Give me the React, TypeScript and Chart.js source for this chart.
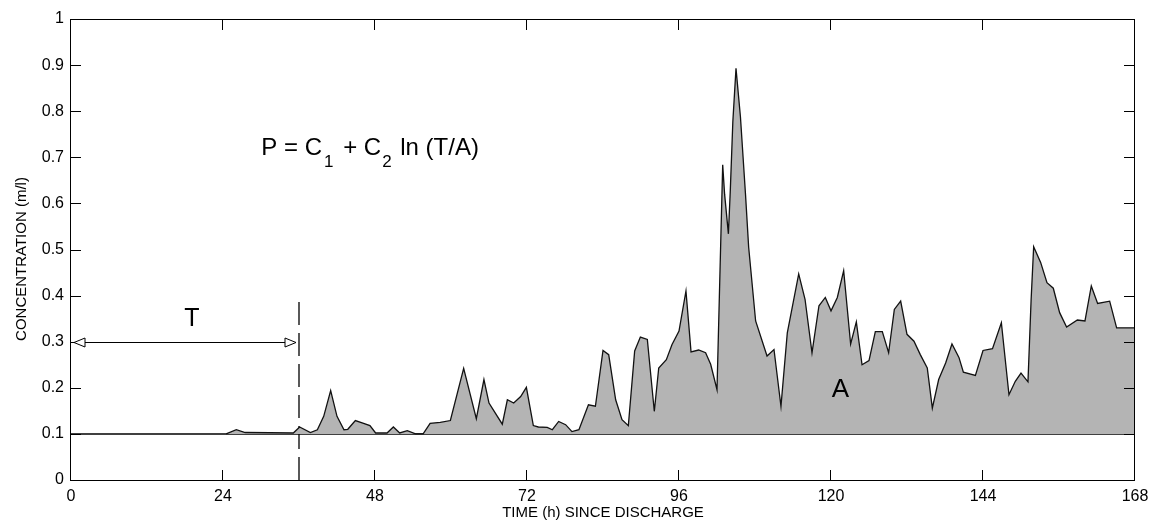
import React, { useEffect, useRef } from "react";
import { Chart, registerables } from "chart.js";

Chart.register(...registerables);

// ---- data ----
const timeHours = [
  24.5, 26.1, 27.5, 35.1, 36.1, 37.8, 38.9, 39.9, 41.0, 42.0, 43.1, 43.7, 44.9, 46.2, 47.2, 48.1, 49.9,
  50.9, 51.9, 53.1, 54.4, 55.6, 56.7, 58.3, 59.9, 62.0, 64.0, 65.2, 66.0, 67.0, 68.1, 68.9, 69.9,
  71.0, 71.9, 73.0, 73.8, 75.2, 76.0, 77.0, 78.1, 79.1, 80.2, 81.7, 82.8, 84.0, 84.9, 86.0, 87.0,
  88.0, 89.0, 89.9, 91.0, 92.1, 92.8, 94.0, 94.9, 96.0, 97.1, 97.9, 99.1, 100.2, 101.0, 102.0,
  102.9, 103.2, 103.8, 104.1, 104.5, 105.0, 105.7, 106.5, 107.0, 108.1, 109.9, 111.0, 112.1, 113.1,
  114.9, 115.9, 117.0, 118.1, 119.1, 120.0, 121.0, 122.0, 123.1, 124.0, 124.9, 126.0, 127.0, 128.1,
  129.1, 130.0, 131.0, 132.0, 133.1, 134.1, 135.2, 136.0, 137.0, 138.1, 139.1, 140.2, 140.9, 142.8,
  144.0, 145.5, 146.9, 148.1, 149.1, 150.0, 151.1, 151.6, 152.0, 153.1, 154.1, 155.1, 156.1, 157.2,
  158.9, 160.1, 161.1, 162.1, 164.0, 165.1, 168.0,
];
const concentration = [
  0.1, 0.109, 0.103, 0.102, 0.115, 0.103, 0.109, 0.138, 0.194, 0.138, 0.109, 0.11, 0.129, 0.123, 0.118, 0.102, 0.102,
  0.115, 0.102, 0.107, 0.1, 0.1, 0.123, 0.125, 0.129, 0.242, 0.133, 0.218, 0.167, 0.145, 0.121, 0.174, 0.167,
  0.181, 0.201, 0.118, 0.115, 0.114, 0.109, 0.127, 0.12, 0.105, 0.109, 0.163, 0.16, 0.281, 0.272, 0.174, 0.131,
  0.118, 0.28, 0.31, 0.305, 0.149, 0.243, 0.261, 0.294, 0.323, 0.41, 0.278, 0.282, 0.276, 0.251, 0.196,
  0.684, 0.62, 0.534, 0.628, 0.777, 0.893, 0.788, 0.62, 0.505, 0.345, 0.269, 0.283, 0.16, 0.319,
  0.447, 0.392, 0.276, 0.378, 0.396, 0.367, 0.396, 0.454, 0.295, 0.343, 0.25, 0.259, 0.322, 0.322,
  0.276, 0.37, 0.388, 0.316, 0.301, 0.272, 0.243, 0.156, 0.218, 0.254, 0.295, 0.266, 0.234, 0.227,
  0.281, 0.285, 0.341, 0.185, 0.214, 0.232, 0.213, 0.392, 0.506, 0.472, 0.428, 0.416, 0.363, 0.332,
  0.347, 0.345, 0.421, 0.383, 0.388, 0.33, 0.33,
];
const xTickValues = [0, 24, 48, 72, 96, 120, 144, 168];
const xTickLabels = ["0", "24", "48", "72", "96", "120", "144", "168"];
const yTickValues = [0, 0.1, 0.2, 0.3, 0.4, 0.5, 0.6, 0.7, 0.8, 0.9, 1];
const yTickLabels = ["0", "0.1", "0.2", "0.3", "0.4", "0.5", "0.6", "0.7", "0.8", "0.9", "1"];
const baselineLevel = 0.1;
const lagT = 36;
const arrowLevel = 0.3;
const dashTopLevel = 0.4;
const xTitle = "TIME (h) SINCE DISCHARGE";
const yTitle = "CONCENTRATION (m/l)";

const FONT = "'Liberation Sans', Arial, Helvetica, sans-serif";

const decoPlugin = {
  id: "deco",
  afterDraw(chart: any) {
    const ctx: CanvasRenderingContext2D = chart.ctx;
    const area = chart.chartArea;
    const xs = chart.scales.x;
    const ys = chart.scales.y;
    ctx.save();
    ctx.setLineDash([]);
    ctx.fillStyle = "#000";
    const left = Math.round(area.left) - 1;
    const right = Math.round(area.right) - 1;
    const top = Math.round(area.top);
    const bottom = Math.round(area.bottom);
    // frame (1px rectangles)
    ctx.fillRect(left, top, right - left + 1, 1);
    ctx.fillRect(left, bottom, right - left + 1, 1);
    ctx.fillRect(left, top, 1, bottom - top + 1);
    ctx.fillRect(right, top, 1, bottom - top + 1);
    // inward ticks
    const tl = 10;
    xTickValues.forEach((v) => {
      const px = Math.round(xs.getPixelForValue(v)) - 1;
      ctx.fillRect(px, bottom - tl, 1, tl);
      ctx.fillRect(px, top + 1, 1, tl);
    });
    yTickValues.forEach((v) => {
      const py = Math.round(ys.getPixelForValue(v));
      ctx.fillRect(left + 1, py, tl, 1);
      ctx.fillRect(right - tl, py, tl, 1);
    });

    // arrow for T
    ctx.strokeStyle = "#000";
    ctx.lineWidth = 1;
    const ay = Math.round(ys.getPixelForValue(arrowLevel)) + 0.5;
    const ax0 = xs.getPixelForValue(0) + 3;
    const ax1 = xs.getPixelForValue(lagT) - 3;
    ctx.beginPath();
    ctx.moveTo(ax0, ay);
    ctx.lineTo(ax1, ay);
    ctx.stroke();
    const head = (tipX: number, dir: number) => {
      ctx.beginPath();
      ctx.moveTo(tipX, ay);
      ctx.lineTo(tipX + dir * 11, ay - 4.5);
      ctx.lineTo(tipX + dir * 11, ay + 4.5);
      ctx.closePath();
      ctx.fillStyle = "#fff";
      ctx.fill();
      ctx.stroke();
    };
    head(ax0, 1);
    head(ax1, -1);

    ctx.fillStyle = "#000";
    ctx.textBaseline = "alphabetic";
    ctx.textAlign = "center";
    ctx.font = `25px ${FONT}`;
    ctx.fillText("T", xs.getPixelForValue(19.1), ys.getPixelForValue(0.333));
    ctx.font = `26px ${FONT}`;
    ctx.fillText("A", xs.getPixelForValue(121.5), ys.getPixelForValue(0.181));

    // formula
    const fy = ys.getPixelForValue(0.704);
    let cx = xs.getPixelForValue(30.05);
    ctx.textAlign = "left";
    const big = `24px ${FONT}`;
    const small = `17px ${FONT}`;
    const part = (s: string, font: string, dy: number, gap = 0) => {
      ctx.font = font;
      ctx.fillText(s, cx, fy + dy);
      cx += ctx.measureText(s).width + gap;
    };
    part("P = C", big, 0, 2);
    part("1", small, 12, 3);
    part(" + C", big, 0, 1);
    part("2", small, 12, 2);
    part(" ln (T/A)", big, 0);

    // axis titles
    ctx.font = `15px ${FONT}`;
    ctx.textAlign = "center";
    ctx.textBaseline = "middle";
    ctx.fillText(xTitle, (area.left + area.right) / 2, 513);
    ctx.translate(22, 259);
    ctx.rotate(-Math.PI / 2);
    ctx.fillText(yTitle, 0, 0);

    ctx.restore();
  },
};

export default function App() {
  const ref = useRef<HTMLCanvasElement>(null);
  useEffect(() => {
    if (!ref.current) return;
    const seriesPts = timeHours.map((t, i) => ({ x: t, y: concentration[i] }));
    const chart = new Chart(ref.current, {
      type: "line",
      data: {
        datasets: [
          {
            data: seriesPts,
            borderColor: "#111",
            borderWidth: 1.3,
            backgroundColor: "#b4b4b4",
            fill: { value: baselineLevel },
            pointRadius: 0,
            tension: 0,
          },
          {
            data: [
              { x: 0, y: baselineLevel },
              { x: 168, y: baselineLevel },
            ],
            borderColor: "#000",
            borderWidth: 1.5,
            pointRadius: 0,
            fill: false,
          },
          {
            data: [
              { x: lagT, y: 0 },
              { x: lagT, y: dashTopLevel },
            ],
            borderColor: "#000",
            borderWidth: 1.3,
            borderDash: [23, 8],
            pointRadius: 0,
            fill: false,
          },
        ],
      },
      options: {
        animation: false,
        responsive: false,
        devicePixelRatio: 1,
        layout: { padding: { top: 19, right: 16, left: 0, bottom: 0 } },
        plugins: { legend: { display: false }, tooltip: { enabled: false }, title: { display: false } },
        scales: {
          x: {
            type: "linear",
            min: 0,
            max: 168,
            afterBuildTicks: (s: any) => {
              s.ticks = xTickValues.map((v) => ({ value: v }));
            },
            afterFit: (s: any) => {
              s.height = 44;
              s.paddingLeft = 0;
              s.paddingRight = 0;
            },
            ticks: {
              autoSkip: false,
              maxRotation: 0,
              padding: 7,
              color: "#000",
              font: { family: FONT, size: 16 },
              callback: (v: any) => {
                const i = xTickValues.indexOf(Number(v));
                return i >= 0 ? xTickLabels[i] : "";
              },
            },
            grid: { display: false, drawTicks: false },
            border: { display: false },
          },
          y: {
            type: "linear",
            min: 0,
            max: 1,
            afterBuildTicks: (s: any) => {
              s.ticks = yTickValues.map((v) => ({ value: v }));
            },
            afterFit: (s: any) => {
              s.width = 71;
              s.paddingTop = 0;
              s.paddingBottom = 0;
            },
            ticks: {
              autoSkip: false,
              padding: 7,
              color: "#000",
              font: { family: FONT, size: 16 },
              callback: (v: any) => {
                const i = yTickValues.findIndex((t) => Math.abs(t - Number(v)) < 1e-6);
                return i >= 0 ? yTickLabels[i] : "";
              },
            },
            grid: { display: false, drawTicks: false },
            border: { display: false },
          },
        },
      },
      plugins: [decoPlugin],
    });
    return () => chart.destroy();
  }, []);
  return (
    <div style={{ position: "absolute", left: 0, top: 0, width: 1151, height: 524, background: "#fff" }}>
      <canvas ref={ref} width={1151} height={524} style={{ display: "block" }} />
    </div>
  );
}
